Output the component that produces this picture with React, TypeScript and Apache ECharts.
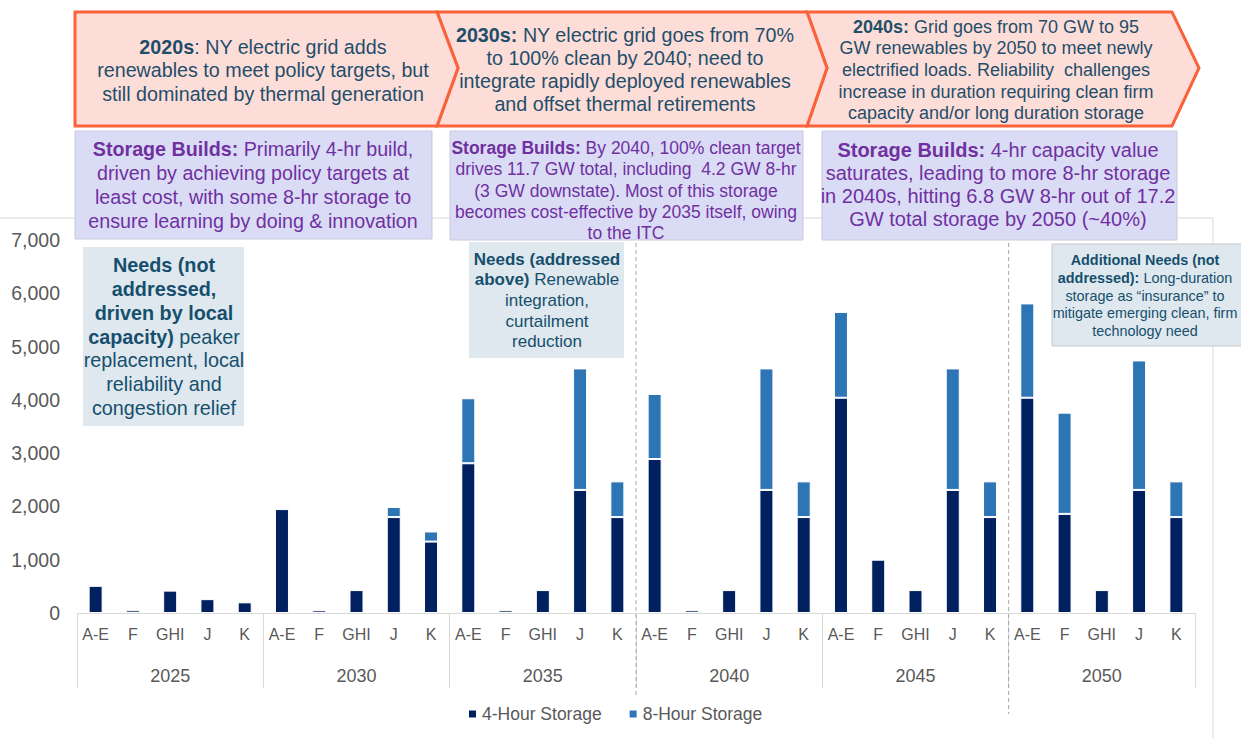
import React, { useEffect, useRef } from 'react';
import * as echarts from 'echarts';

const regions = ['A-E', 'F', 'GHI', 'J', 'K'];
const years = ['2025', '2030', '2035', '2040', '2045', '2050'];
const categories = years.flatMap(() => regions);

const fourHour = [
  510, 50, 420, 260, 200,
  1950, 50, 430, 1800, 1340,
  2810, 50, 430, 2310, 1800,
  2890, 50, 430, 2310, 1800,
  4040, 1000, 430, 2310, 1800,
  4040, 1860, 430, 2310, 1800,
];
const eightHour = [
  0, 0, 0, 0, 0,
  0, 0, 0, 190, 190,
  1220, 0, 0, 2280, 670,
  1220, 0, 0, 2280, 670,
  1610, 0, 0, 2280, 670,
  1770, 1900, 0, 2430, 670,
];
const seriesNames = ['4-Hour Storage', '8-Hour Storage'];
const yMax = 7000;
const yStep = 1000;

const FONT = '"Liberation Sans", Arial, sans-serif';
const GRID_L = 77;
const GRID_R = 1195;
const GRID_T = 240;
const GRID_B = 613;
const groupW = (GRID_R - GRID_L) / years.length;

const TEAL = '#1F4E6B';
const PURPLE = '#7030A0';
const NEEDS_TXT = '#154F6D';

function richText(x: number, y: number, text: string, size: number, lh: number, color: string) {
  return {
    type: 'text',
    x,
    y,
    z: 20,
    style: {
      text,
      fill: color,
      fontSize: size,
      fontFamily: FONT,
      lineHeight: lh,
      align: 'center',
      verticalAlign: 'middle',
      rich: {
        b: { fontWeight: 'bold', fontSize: size, fontFamily: FONT, fill: color, lineHeight: lh },
      },
    },
  };
}

export default function App() {
  const ref = useRef<HTMLDivElement>(null);
  useEffect(() => {
    if (!ref.current) return;
    const chart = echarts.init(ref.current, undefined, { renderer: 'svg' });

    const b1 = GRID_L + groupW * 3;
    const b2 = GRID_L + groupW * 5;

    const graphics: any[] = [
      // frame
      { type: 'line', z: 1, shape: { x1: 0, y1: 218, x2: 1213, y2: 218 }, style: { stroke: '#d9d9d9', lineWidth: 1 } },
      { type: 'line', z: 1, shape: { x1: 1213, y1: 218, x2: 1213, y2: 738 }, style: { stroke: '#d9d9d9', lineWidth: 1 } },
      // dashed separators
      { type: 'line', z: 2, shape: { x1: b1, y1: 236, x2: b1, y2: 697 }, style: { stroke: '#a6a6a6', lineWidth: 1, lineDash: [4, 3] } },
      { type: 'line', z: 2, shape: { x1: b2, y1: 236, x2: b2, y2: 714 }, style: { stroke: '#a6a6a6', lineWidth: 1, lineDash: [4, 3] } },
      // chevrons
      {
        type: 'polygon', z: 5,
        shape: { points: [[807, 12], [1172, 12], [1199, 68], [1172, 126], [807, 126], [827, 68]] },
        style: { fill: '#FDDDD7', stroke: '#F9623B', lineWidth: 3 },
      },
      {
        type: 'polygon', z: 5,
        shape: { points: [[437, 12], [807, 12], [827, 68], [807, 126], [437, 126], [458, 68]] },
        style: { fill: '#FDDDD7', stroke: '#F9623B', lineWidth: 3 },
      },
      {
        type: 'polygon', z: 5,
        shape: { points: [[75, 12], [437, 12], [458, 68], [437, 126], [75, 126]] },
        style: { fill: '#FDDDD7', stroke: '#F9623B', lineWidth: 3 },
      },
      // storage boxes
      { type: 'rect', z: 6, shape: { x: 75, y: 131, width: 357, height: 108 }, style: { fill: '#DADCF6', stroke: '#c9c9d9', lineWidth: 1 } },
      { type: 'rect', z: 6, shape: { x: 450, y: 131, width: 353, height: 109 }, style: { fill: '#DADCF6', stroke: '#c9c9d9', lineWidth: 1 } },
      { type: 'rect', z: 6, shape: { x: 822, y: 131, width: 355, height: 109 }, style: { fill: '#DADCF6', stroke: '#c9c9d9', lineWidth: 1 } },
      // needs boxes
      { type: 'rect', z: 6, shape: { x: 83, y: 247, width: 161, height: 179 }, style: { fill: '#DFE8EE' } },
      { type: 'rect', z: 6, shape: { x: 469, y: 242, width: 155, height: 116 }, style: { fill: '#DFE8EE' } },
      { type: 'rect', z: 6, shape: { x: 1052, y: 244, width: 200, height: 102 }, style: { fill: '#DFE8EE', stroke: '#c8c8c8', lineWidth: 1 } },
      // banner texts
      richText(263, 70, '{b|2020s}: NY electric grid adds\nrenewables to meet policy targets, but\nstill dominated by thermal generation', 19.7, 23.5, TEAL),
      richText(625, 69.5, '{b|2030s:} NY electric grid goes from 70%\nto 100% clean by 2040; need to\nintegrate rapidly deployed renewables\nand offset thermal retirements', 19.7, 23, TEAL),
      richText(996, 70, '{b|2040s:} Grid goes from 70 GW to 95\nGW renewables by 2050 to meet newly\nelectrified loads. Reliability  challenges\nincrease in duration requiring clean firm\ncapacity and/or long duration storage', 18, 21.6, TEAL),
      // storage texts
      richText(253, 184.5, '{b|Storage Builds:} Primarily 4-hr build,\ndriven by achieving policy targets at\nleast cost, with some 8-hr storage to\nensure learning by doing & innovation', 19.7, 24, PURPLE),
      richText(626, 190.5, '{b|Storage Builds:} By 2040, 100% clean target\ndrives 11.7 GW total, including  4.2 GW 8-hr\n(3 GW downstate). Most of this storage\nbecomes cost-effective by 2035 itself, owing\nto the ITC', 17.5, 21.2, PURPLE),
      richText(998, 184, '{b|Storage Builds:} 4-hr capacity value\nsaturates, leading to more 8-hr storage\nin 2040s, hitting 6.8 GW 8-hr out of 17.2\nGW total storage by 2050 (~40%)', 20, 23, PURPLE),
      // needs texts
      richText(164, 336.5, '{b|Needs (not}\n{b|addressed,}\n{b|driven by local}\n{b|capacity)} peaker\nreplacement, local\nreliability and\ncongestion relief', 19.8, 23.8, NEEDS_TXT),
      richText(547, 300.5, '{b|Needs (addressed}\n{b|above)} Renewable\nintegration,\ncurtailment\nreduction', 17, 20.7, NEEDS_TXT),
      richText(1145, 295.5, '{b|Additional Needs (not}\n{b|addressed):} Long-duration\nstorage as \u201cinsurance\u201d to\nmitigate emerging clean, firm\ntechnology need', 14.4, 17.8, NEEDS_TXT),
    ];

    const option: any = {
      animation: false,
      backgroundColor: '#ffffff',
      textStyle: { fontFamily: FONT },
      grid: { left: GRID_L, right: 1241 - GRID_R, top: GRID_T, bottom: 738 - GRID_B, containLabel: false },
      legend: {
        data: seriesNames,
        left: 462,
        top: 700,
        icon: 'rect',
        itemWidth: 9,
        itemHeight: 9,
        itemGap: 26,
        textStyle: { color: '#595959', fontSize: 17.5, fontFamily: FONT },
      },
      xAxis: [
        {
          type: 'category',
          data: categories,
          position: 'bottom',
          axisLine: { show: true, lineStyle: { color: '#d9d9d9', width: 1 } },
          axisTick: { show: false },
          axisLabel: { interval: 0, color: '#595959', fontSize: 16, margin: 13, fontFamily: FONT },
        },
        {
          type: 'category',
          data: years,
          position: 'bottom',
          axisLine: { show: false },
          axisTick: { show: true, interval: 0, length: 75, lineStyle: { color: '#d9d9d9', width: 1 } },
          axisLabel: { interval: 0, color: '#595959', fontSize: 18, margin: 54, fontFamily: FONT },
          splitLine: { show: false },
        },
      ],
      yAxis: {
        type: 'value',
        min: 0,
        max: yMax,
        interval: yStep,
        axisLine: { show: false },
        axisTick: { show: false },
        splitLine: { show: false },
        axisLabel: {
          color: '#595959',
          fontSize: 19.5,
          margin: 17,
          fontFamily: FONT,
          formatter: (v: number) => v.toLocaleString('en-US'),
        },
      },
      series: [
        {
          name: seriesNames[0],
          type: 'bar',
          stack: 'storage',
          xAxisIndex: 0,
          barWidth: 14,
          data: fourHour.map((v) => (v ? v : null)),
          itemStyle: { color: '#002060', borderColor: '#ffffff', borderWidth: 1 },
        },
        {
          name: seriesNames[1],
          type: 'bar',
          stack: 'storage',
          xAxisIndex: 0,
          barWidth: 14,
          data: eightHour.map((v) => (v ? v : null)),
          itemStyle: { color: '#2E75B6', borderColor: '#ffffff', borderWidth: 1 },
        },
      ],
      graphic: { elements: graphics },
    };

    chart.setOption(option);
    return () => chart.dispose();
  }, []);

  return (
    <div
      ref={ref}
      style={{ position: 'absolute', left: 0, top: 0, width: 1241, height: 738, background: '#fff' }}
    />
  );
}
